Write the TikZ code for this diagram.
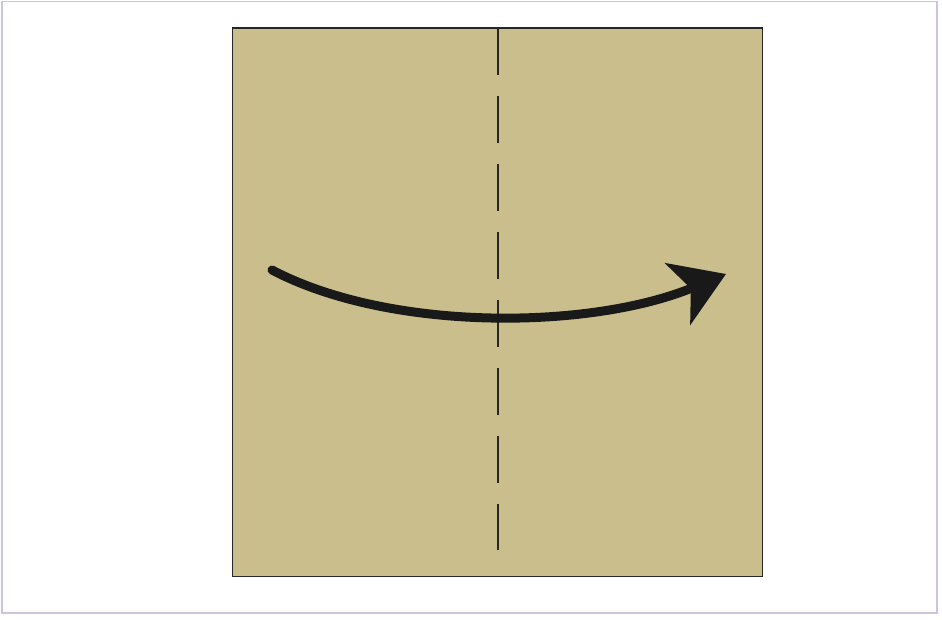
\documentclass[tikz,border=0pt]{standalone}
\usetikzlibrary{arrows.meta}
\definecolor{paper}{RGB}{201,190,140}
\definecolor{frameline}{RGB}{205,195,222}
\tikzset{
  sheet/.style={fill=paper, draw=black!85, line width=1.5pt},
  foldline/.style={draw=black!85, line width=2pt, dash pattern=on 47pt off 21pt},
  movearrow/.style={draw=black!90, line width=9pt, line cap=round,
    -{Stealth[length=52pt,width=66pt,inset=14pt]}}
}
\begin{document}
\begin{tikzpicture}[x=1pt,y=-1pt]
\useasboundingbox (0,0) rectangle (942,620);
\fill[white] (0,0) rectangle (942,620);
\draw[frameline, line width=1.5pt] (2,1.5) rectangle (937,613);
\node[sheet, minimum width=530pt, minimum height=548pt, inner sep=0pt, anchor=north west] (sq) at (231.5,27.5) {};
\coordinate (ftop) at (497.5,28);
\coordinate (fbot) at (497.5,550);
\draw[foldline] (ftop) -- (fbot);
\coordinate (as) at (272,270);
\coordinate (ae) at (726,274);
\draw[movearrow] (as) .. controls (390,332) and (590,330) .. (ae);
\end{tikzpicture}
\end{document}
